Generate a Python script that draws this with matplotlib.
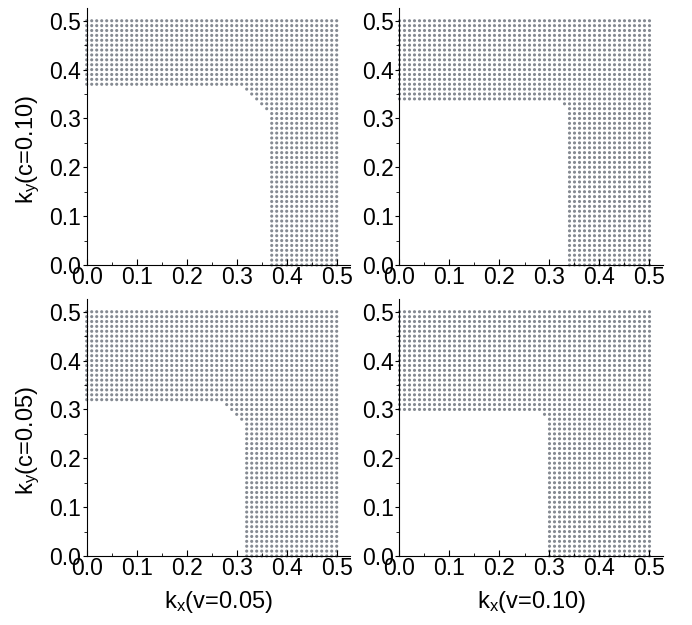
import numpy as np
import matplotlib
matplotlib.use("Agg")
import matplotlib.pyplot as plt
from matplotlib.ticker import MultipleLocator


# =========================
# 1. 数据
# =========================

k_step = 0.01
k_max = 0.50

x_labels = ["k$_x$(v=0.05)", "k$_x$(v=0.10)"]
y_labels = ["k$_y$(c=0.10)", "k$_y$(c=0.05)"]

# 每个子图：上方整行从 band_ky 开始，右侧竖带从 band_kx 开始
# 顺序：左上、右上、左下、右下
band_ky = [0.37, 0.34, 0.32, 0.30]
band_kx = [0.37, 0.34, 0.32, 0.30]

# 拐角处的斜边：每一行 (ky) 的起始 kx
corner_ky_tl = [0.36, 0.35, 0.34, 0.33, 0.32]
corner_kx_tl = [0.32, 0.33, 0.34, 0.35, 0.36]
corner_ky_tr = [0.33]
corner_kx_tr = [0.33]
corner_ky_bl = [0.31, 0.30, 0.29, 0.28]
corner_kx_bl = [0.28, 0.29, 0.30, 0.31]
corner_ky_br = [0.29]
corner_kx_br = [0.29]

corner_ky = [corner_ky_tl, corner_ky_tr, corner_ky_bl, corner_ky_br]
corner_kx = [corner_kx_tl, corner_kx_tr, corner_kx_bl, corner_kx_br]

tick_vals = [0.0, 0.1, 0.2, 0.3, 0.4, 0.5]
tick_text = ["0.0", "0.1", "0.2", "0.3", "0.4", "0.5"]


# =========================
# 2. 样式
# =========================

plt.rcParams["font.family"] = ["Liberation Sans", "DejaVu Sans"]
plt.rcParams["mathtext.default"] = "regular"

DOT_COLOR = "#858a92"
TICK_SIZE = 16.5
LABEL_SIZE = 17
LIM = 0.527


def build_points(i):
    """按行生成格点，去掉左下角空白区域"""
    grid = np.round(np.arange(0, k_max + k_step / 2, k_step), 2)
    starts = dict(zip(corner_ky[i], corner_kx[i]))
    xs, ys = [], []
    for ky in grid:
        if ky >= band_ky[i] - 1e-9:
            start = 0.0
        else:
            start = starts.get(ky, band_kx[i])
        for kx in grid:
            if kx >= start - 1e-9:
                xs.append(kx)
                ys.append(ky)
    return np.array(xs), np.array(ys)


def style_axes(ax):
    ax.set_xlim(0, LIM)
    ax.set_ylim(0, LIM)
    ax.spines["top"].set_visible(False)
    ax.spines["right"].set_visible(False)
    ax.xaxis.set_minor_locator(MultipleLocator(0.05))
    ax.yaxis.set_minor_locator(MultipleLocator(0.05))
    ax.set_xticks(tick_vals)
    ax.set_yticks(tick_vals)
    ax.set_xticklabels(tick_text)
    ax.set_yticklabels(tick_text)
    ax.tick_params(axis="x", which="major", direction="in", length=4, pad=1, labelsize=TICK_SIZE)
    ax.tick_params(axis="x", which="minor", direction="in", length=2.5)
    ax.tick_params(axis="y", which="major", direction="out", length=3, pad=1, labelsize=TICK_SIZE)
    ax.tick_params(axis="y", which="minor", direction="out", length=2)


# =========================
# 3. 绘图
# =========================

fig = plt.figure(figsize=(6.92, 6.25), dpi=100)

W, H = 692.0, 625.0
lefts = [86.7, 399.5]
bottoms = [265.0, 556.0]
size_x = LIM * 500
size_y = LIM * 488.5

for r in range(2):
    for c in range(2):
        i = r * 2 + c
        ax = fig.add_axes([lefts[c] / W, 1 - bottoms[r] / H, size_x / W, size_y / H])
        xs, ys = build_points(i)
        ax.scatter(xs, ys, s=5, color=DOT_COLOR, edgecolors="none", clip_on=False, zorder=1)
        style_axes(ax)
        if c == 0:
            ax.set_ylabel(y_labels[r], fontsize=LABEL_SIZE)
            ax.yaxis.set_label_coords(-0.17, 0.45)
        if r == 1:
            ax.set_xlabel(x_labels[c], fontsize=LABEL_SIZE)
            ax.xaxis.set_label_coords(0.5, -0.13)

fig.savefig("out.png", dpi=100)
